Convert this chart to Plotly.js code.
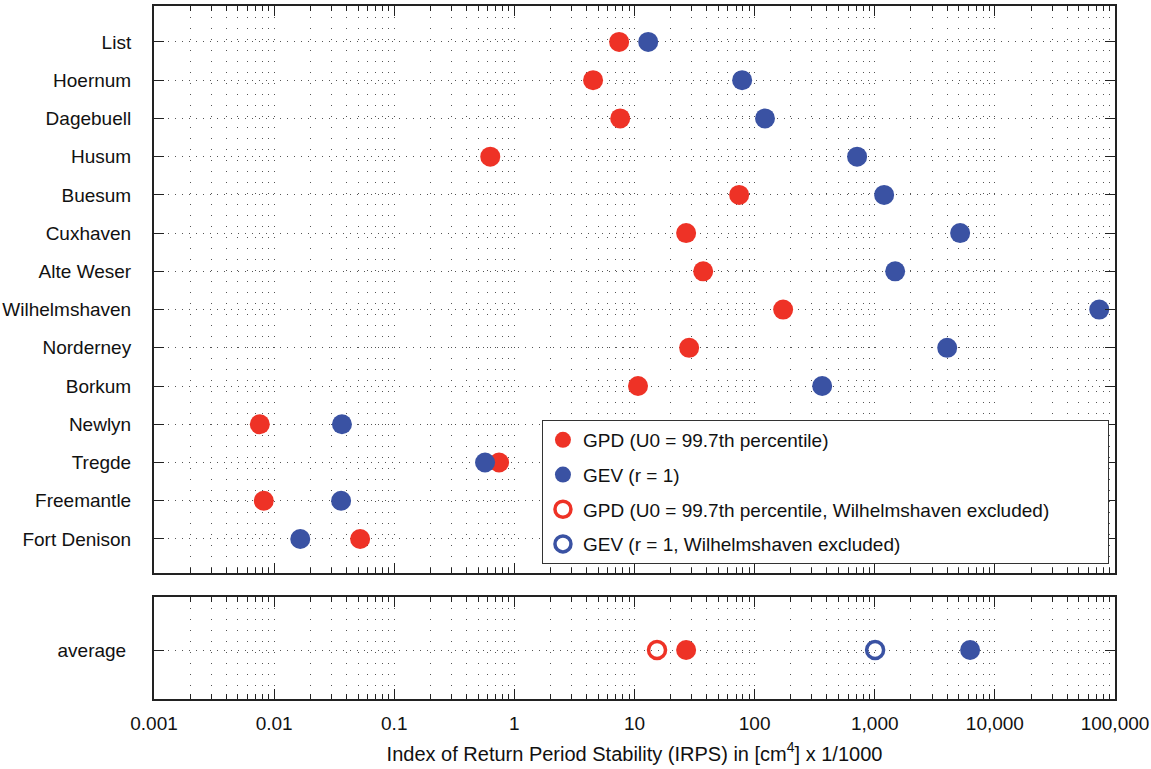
<!DOCTYPE html>
<html>
<head>
<meta charset="utf-8">
<script src="https://cdn.plot.ly/plotly-3.0.1.min.js"></script>
<style>html,body{margin:0;padding:0;background:#fff;}#chart{width:1151px;height:769px;}</style>
</head>
<body>
<div id="chart"></div>
<script>
// ---- data ----
const stations = ["List","Hoernum","Dagebuell","Husum","Buesum","Cuxhaven","Alte Weser",
  "Wilhelmshaven","Norderney","Borkum","Newlyn","Tregde","Freemantle","Fort Denison"];
const gpdValues = [7.45, 4.52, 7.6, 0.63, 74.3, 26.9, 37.3, 172.7, 28.5, 10.7, 0.0076, 0.746, 0.0082, 0.052];
const gevValues = [13.0, 78.7, 122, 713, 1197, 5140, 1479, 73900, 4009, 365, 0.0367, 0.570, 0.0361, 0.0165];
const avgLabel = ["average"];
const gpdAverage = [26.9];
const gevAverage = [6220];
const gpdAverageExcl = [15.4];
const gevAverageExcl = [1007];
const xTickVals = [0.001, 0.01, 0.1, 1, 10, 100, 1000, 10000, 100000];
const xTickText = ["0.001", "0.01", "0.1", "1", "10", "100", "1,000", "10,000", "100,000"];
const legendNames = ["GPD (U0 = 99.7th percentile)", "GEV (r = 1)",
  "GPD (U0 = 99.7th percentile, Wilhelmshaven excluded)", "GEV (r = 1, Wilhelmshaven excluded)"];

// ---- style ----
const RED = "#EE3226";
const BLUE = "#3A52A3";
const FONT = "Liberation Sans, Arial, sans-serif";
const PAD = "\u00a0".repeat(10); // widens the legend box like the reference

const minorVals = [];
for (let e = -3; e < 5; e++) for (let m = 2; m <= 9; m++) minorVals.push(m * Math.pow(10, e));

const traces = [
  {x: gpdValues, y: stations, xaxis: "x", yaxis: "y", type: "scatter", mode: "markers",
   name: legendNames[0], legendgroup: "a", marker: {color: RED, size: 20, symbol: "circle"}},
  {x: gevValues, y: stations, xaxis: "x", yaxis: "y", type: "scatter", mode: "markers",
   name: legendNames[1], legendgroup: "b", marker: {color: BLUE, size: 20, symbol: "circle"}},
  {x: gpdAverageExcl, y: avgLabel, xaxis: "x2", yaxis: "y2", type: "scatter", mode: "markers",
   name: legendNames[2] + PAD, legendgroup: "c", marker: {color: RED, size: 17, symbol: "circle-open", line: {width: 3.5}}},
  {x: gevAverageExcl, y: avgLabel, xaxis: "x2", yaxis: "y2", type: "scatter", mode: "markers",
   name: legendNames[3], legendgroup: "d", marker: {color: BLUE, size: 17, symbol: "circle-open", line: {width: 3.5}}},
  {x: gpdAverage, y: avgLabel, xaxis: "x2", yaxis: "y2", type: "scatter", mode: "markers",
   showlegend: false, legendgroup: "a", marker: {color: RED, size: 20, symbol: "circle"}},
  {x: gevAverage, y: avgLabel, xaxis: "x2", yaxis: "y2", type: "scatter", mode: "markers",
   showlegend: false, legendgroup: "b", marker: {color: BLUE, size: 20, symbol: "circle"}}
];

function xAxis(extra) {
  return Object.assign({
    type: "log", range: [-3, 5], tickmode: "array", tickvals: xTickVals, ticktext: xTickText,
    ticks: "inside", ticklen: 10, tickwidth: 1, tickcolor: "#222",
    showline: true, linecolor: "#222", linewidth: 2, mirror: "ticks",
    showgrid: true, gridcolor: "#555", gridwidth: 1, griddash: "1px,10px",
    zeroline: false,
    minor: {tickmode: "array", tickvals: minorVals, ticks: "inside", ticklen: 5, tickcolor: "#222",
            showgrid: true, gridcolor: "#555", gridwidth: 1, griddash: "1px,10px"},
    tickfont: {family: FONT, size: 19, color: "#111"}
  }, extra);
}

const layout = {
  width: 1151, height: 769,
  margin: {l: 154, r: 36, t: 6, b: 70, pad: 0},
  paper_bgcolor: "#fff", plot_bgcolor: "#fff",
  font: {family: FONT, size: 19, color: "#111"},
  showlegend: true,
  xaxis: xAxis({anchor: "y", showticklabels: false}),
  xaxis2: xAxis({anchor: "y2", matches: "x", showticklabels: true, ticklabelstandoff: 6,
    title: {text: "Index of Return Period Stability (IRPS) in [cm<sup>4</sup>] x 1/1000",
            font: {family: FONT, size: 20, color: "#111"}, standoff: 14}}),
  yaxis: {domain: [0.1818, 1], anchor: "x", type: "category", categoryorder: "array", categoryarray: stations,
    range: [13.89, -0.94], ticks: "inside", ticklen: 10, tickcolor: "#222",
    showline: true, linecolor: "#222", linewidth: 2, mirror: "ticks",
    showgrid: true, gridcolor: "#555", gridwidth: 1, griddash: "1px,6px",
    ticklabelstandoff: 17, tickfont: {family: FONT, size: 19, color: "#111"}},
  yaxis2: {domain: [0, 0.1472], anchor: "x2", type: "category",
    range: [-0.96, 1.04], ticks: "inside", ticklen: 10, tickcolor: "#222",
    showline: true, linecolor: "#222", linewidth: 2, mirror: "ticks",
    showgrid: true, gridcolor: "#555", gridwidth: 1, griddash: "1px,6px",
    ticklabelstandoff: 22, tickfont: {family: FONT, size: 19, color: "#111"}},
  legend: {x: 0.4037, xanchor: "left", y: 0.4026, yanchor: "top",
    bgcolor: "#fff", bordercolor: "#333", borderwidth: 1,
    font: {family: FONT, size: 19, color: "#111"},
    tracegroupgap: 7, itemsizing: "trace"}
};

Plotly.newPlot("chart", traces, layout, {displayModeBar: false, staticPlot: true});
</script>
</body>
</html>
